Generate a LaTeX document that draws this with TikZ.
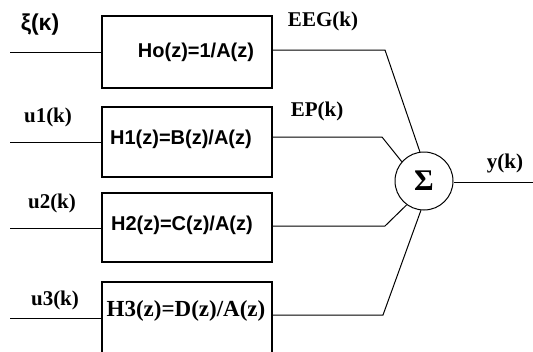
\documentclass[tikz,border=0pt]{standalone}
\usepackage{fontspec}
\setmainfont{Liberation Serif}
\newfontfamily\sansfnt{Liberation Sans}
\tikzset{
  blockbox/.style={draw, line width=2.4pt, minimum width=170pt, inner sep=0pt},
  sanslabel/.style={font=\sansfnt\bfseries\fontsize{20}{23}\selectfont, inner sep=0pt},
  serlabel/.style={font=\bfseries\fontsize{21}{24}\selectfont, inner sep=0pt},
  wire/.style={line width=1pt},
  sumnode/.style={draw, circle, line width=1pt, minimum size=58pt, inner sep=0pt,
                  font=\bfseries\fontsize{30}{32}\selectfont}
}
\begin{document}
\begin{tikzpicture}[x=1pt, y=-1pt]
\useasboundingbox (0,0) rectangle (533,351);
\clip (0,0) rectangle (533,351);

% filter blocks
\node[blockbox, minimum height=72pt] (b0) at (187,52) {};
\node[blockbox, minimum height=70pt] (b1) at (187,142) {};
\node[blockbox, minimum height=69pt] (b2) at (187,227.5) {};
\node[blockbox, minimum height=100pt] (b3) at (187,332) {};

% transfer functions
\node[sanslabel] (t0) at (196,52) {Ho(z)=1/A(z)};
\node[sanslabel] (t1) at (181,139) {H1(z)=B(z)/A(z)};
\node[sanslabel] (t2) at (182,225) {H2(z)=C(z)/A(z)};
\node[font=\bfseries\fontsize{23}{26}\selectfont, inner sep=0pt] (t3) at (186,311) {H3(z)=D(z)/A(z)};

% summing junction
\node[sumnode] (sum) at (424,181) {Σ};

% input signals
\coordinate (i0) at (10,52);
\coordinate (i1) at (10,142);
\coordinate (i2) at (10,228);
\coordinate (i3) at (10,318);
\draw[wire] (i0) -- (i0 -| b0.west);
\draw[wire] (i1) -- (i1 -| b1.west);
\draw[wire] (i2) -- (i2 -| b2.west);
\draw[wire] (i3) -- (i3 -| b3.west);

\node[sanslabel, font=\sansfnt\bfseries\fontsize{23}{26}\selectfont] (l0) at (40,25) {ξ(κ)};
\node[serlabel] (l1) at (48,117) {u1(k)};
\node[serlabel] (l2) at (52,203) {u2(k)};
\node[serlabel] (l3) at (55,300) {u3(k)};

% block outputs into the sum
\coordinate (k0) at (385,50);
\coordinate (k1) at (382,137);
\coordinate (k2) at (385,226);
\coordinate (k3) at (383,315);
\draw[wire] (k0 -| b0.east) -- (k0) -- (sum.98);
\draw[wire] (k1 -| b1.east) -- (k1) -- (sum.139);
\draw[wire] (k2 -| b2.east) -- (k2) -- (sum.234);
\draw[wire] (k3 -| b3.east) -- (k3) -- (sum.264);

\node[serlabel] (o0) at (323,21) {EEG(k)};
\node[serlabel] (o1) at (317,111) {EP(k)};

% output
\coordinate (yout) at (533,182);
\draw[wire] (sum.east |- yout) -- (yout);
\node[serlabel] (o2) at (505,163) {y(k)};
\end{tikzpicture}
\end{document}
